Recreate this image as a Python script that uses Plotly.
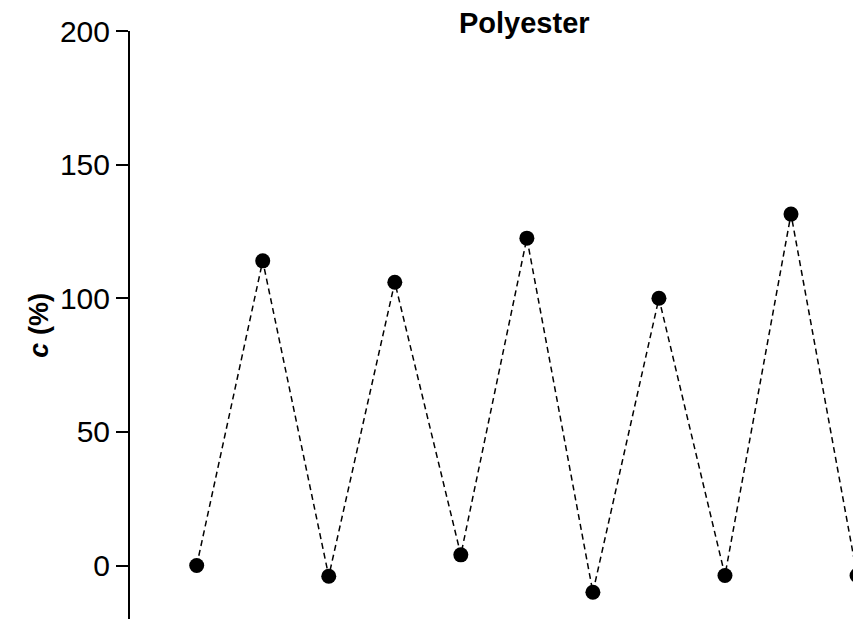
import plotly.graph_objects as go

sample_index = [0, 1, 2, 3, 4, 5, 6, 7, 8, 9, 10]
c_percent = [0, 114, -4, 106, 4, 122.5, -10, 100, -3.7, 131.5, -3.7]
y_ticks = [0, 50, 100, 150, 200]
title_text = "Polyester"
y_title = "<b><i>c</i> (%)</b>"

FONT = "Arial, Liberation Sans, sans-serif"

fig = go.Figure()
fig.add_trace(go.Scatter(
    x=sample_index, y=c_percent,
    mode="lines+markers",
    line=dict(color="black", width=1.5, dash="6px,4px"),
    marker=dict(color="black", size=15),
    cliponaxis=False,
    showlegend=False,
))

fig.update_layout(
    width=853, height=612,
    margin=dict(l=122, r=0, t=23, b=1),
    paper_bgcolor="white", plot_bgcolor="white",
    font=dict(family=FONT, color="black"),
    xaxis=dict(visible=False, range=[-1.01, 10.06]),
    yaxis=dict(
        range=[-20, 200], tickvals=y_ticks,
        showline=True, linecolor="black", linewidth=2,
        ticks="outside", ticklen=12, tickwidth=2, tickcolor="black",
        showgrid=False, zeroline=False,
        tickfont=dict(size=30, family=FONT, color="black"),
    ),
    annotations=[
        dict(text="<b>" + title_text + "</b>", xref="paper", yref="paper",
             x=0.539, y=1.0143, xanchor="center", yanchor="middle",
             showarrow=False, font=dict(size=29, family=FONT, color="black")),
        dict(text=y_title, xref="paper", yref="paper",
             x=-0.125, y=0.5, xanchor="center", yanchor="middle", textangle=-90,
             showarrow=False, font=dict(size=27, family=FONT, color="black")),
    ],
)

fig.write_html("out.html")
